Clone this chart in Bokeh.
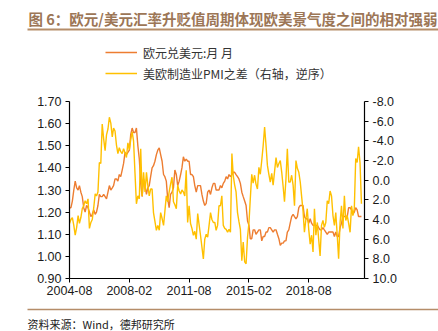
from datetime import datetime
import pandas as pd
from bokeh.plotting import figure
from bokeh.layouts import column
from bokeh.core.properties import value
from bokeh.models import (Range1d, LinearAxis, FixedTicker, PrintfTickFormatter,
                          DatetimeTickFormatter, Legend, LegendItem)
from bokeh.embed import file_html
from bokeh.resources import INLINE

title_text = "图 6：欧元/美元汇率升贬值周期体现欧美景气度之间的相对强弱"
source_text = "资料来源：Wind，德邦研究所"
name_eur = "欧元兑美元:月 月"
name_pmi = "美欧制造业PMI之差（右轴，逆序）"

start_month = "2004-08"
eurusd = [
    1.22, 1.22, 1.25, 1.30, 1.34,
    1.31, 1.30, 1.32, 1.29, 1.27, 1.22, 1.20, 1.23, 1.22, 1.20, 1.18, 1.19,
    1.21, 1.19, 1.20, 1.23, 1.28, 1.27, 1.27, 1.28, 1.27, 1.26, 1.29, 1.32,
    1.30, 1.31, 1.32, 1.35, 1.35, 1.34, 1.37, 1.36, 1.39, 1.42, 1.47, 1.46,
    1.47, 1.48, 1.55, 1.58, 1.56, 1.56, 1.58, 1.50, 1.44, 1.33, 1.27, 1.35,
    1.32, 1.28, 1.31, 1.32, 1.36, 1.40, 1.41, 1.43, 1.46, 1.48, 1.49, 1.46,
    1.43, 1.37, 1.36, 1.34, 1.26, 1.22, 1.28, 1.29, 1.31, 1.39, 1.37, 1.32,
    1.34, 1.37, 1.40, 1.45, 1.43, 1.44, 1.43, 1.43, 1.37, 1.37, 1.36, 1.32,
    1.29, 1.32, 1.32, 1.32, 1.28, 1.25, 1.23, 1.24, 1.29, 1.30, 1.28, 1.31,
    1.33, 1.33, 1.30, 1.30, 1.30, 1.32, 1.31, 1.33, 1.34, 1.36, 1.35, 1.37,
    1.36, 1.37, 1.38, 1.38, 1.37, 1.36, 1.35, 1.33, 1.29, 1.27, 1.25, 1.23,
    1.16, 1.14, 1.08, 1.08, 1.12, 1.12, 1.10, 1.11, 1.12, 1.12, 1.07, 1.09,
    1.09, 1.11, 1.11, 1.13, 1.13, 1.12, 1.11, 1.12, 1.12, 1.10, 1.08, 1.05,
    1.06, 1.06, 1.07, 1.07, 1.11, 1.12, 1.15, 1.18, 1.19, 1.18, 1.17, 1.18,
    1.22, 1.23, 1.23, 1.23, 1.18, 1.17, 1.17, 1.15, 1.17, 1.15, 1.14, 1.14,
    1.14, 1.14, 1.13, 1.12, 1.12, 1.13, 1.12, 1.11, 1.10, 1.11, 1.11, 1.11,
    1.11, 1.09, 1.11, 1.09, 1.09, 1.13, 1.15, 1.18, 1.18, 1.18, 1.18, 1.22,
    1.22, 1.21, 1.19, 1.20, 1.22, 1.21, 1.18, 1.18, 1.18,
]
pmi_diff = [
    4.4, 4.0, 3.8, 4.6, 5.6,
    4.8, 3.6, 4.4, 3.8, 2.9, 2.6, 2.1, 2.4, 1.9, 4.9, 4.3, 4.0,
    2.8, 1.4, 1.6, 1.2, -1.8, -1.7, -5.7, -4.2, -3.0, -4.6, -5.2, -6.4,
    -5.8, -4.4, -5.3, -5.0, -3.6, -2.7, -3.3, -2.9, -2.7, -3.2, -2.8, -2.3,
    -3.8, -3.1, -4.1, -4.9, -4.0, -0.7, 2.4, 1.6, 1.9, -3.2, 1.6, -0.8,
    1.2, -0.8, 0.5, 1.6, 0.9, 0.9, 3.3, 4.2, 5.1, 4.6, 5.1, 3.3,
    3.9, 4.6, 3.2, 1.6, 2.2, 1.2, 0.4, -0.3, 2.2, 2.5, 2.9, 0.5,
    1.1, 1.4, 1.0, 1.2, 1.6, -1.0, 4.3, 2.6, 4.4, 4.9, 5.6, 5.2,
    6.0, 3.4, 4.5, 5.6, 6.8, 8.0, 6.0, 5.5, 5.8, 4.6, 3.3, 4.0,
    4.3, 4.3, 5.1, 4.6, 2.6, 2.6, 1.6, 4.6, 4.9, 5.0, 5.3, 5.0,
    5.3, -2.7, -0.5, 0.5, 1.2, 3.3, 4.2, 5.0, 8.2, 6.3, 8.3, 8.5,
    5.8, 4.3, 1.9, -0.6, 0.3, -0.5, 0.4, 0.9, -1.3, -0.6, -2.0, -3.5,
    -5.4, -3.5, -1.5, -0.6, 0.2, -0.7, 0.5, -0.9, -2.3, -1.3, -1.7, -2.0,
    -0.8, 0.7, 2.2, -0.1, -3.2, 0.2, 0.2, -0.5, 0.5, 2.6, -2.0, -1.2,
    -0.8, 0.2, 1.6, 3.1, 5.3, 4.0, 2.9, 5.0, 6.5, 5.6, 7.3, 2.9,
    5.6, 4.3, 6.0, 7.7, 4.6, 4.1, 4.8, 4.3, 2.1, 2.4, 1.1, 1.6,
    3.6, 4.6, 3.3, 5.6, 8.0, 4.3, 2.6, 4.9, 1.6, 4.1, 3.6, 4.4,
    5.3, 2.6, 3.6, 2.9, -2.2, -1.8, -3.4, -1.8, 2.4,
]
dates = pd.date_range(start_month, periods=len(eurusd), freq="MS")
left_ticks = [0.9, 1.0, 1.1, 1.2, 1.3, 1.4, 1.5, 1.6, 1.7]
right_ticks = [-8, -6, -4, -2, 0, 2, 4, 6, 8, 10]
x_tick_labels = ["2004-08", "2008-02", "2011-08", "2015-02", "2018-08"]

ORANGE = "#ED7D31"
GOLD = "#FFC000"
BROWN = "#9C7656"
RULE = "#B58D69"
LABEL_FONT = "Liberation Sans"
CJK = "Noto Sans CJK SC"
W = 438
HEAD_H = 91
FOOT_H = 29
MAIN_H = 331 - HEAD_H - FOOT_H


def blank(h):
    f = figure(width=W, height=h, output_backend="svg", toolbar_location=None,
               x_range=Range1d(0, W), y_range=Range1d(h, 0),
               x_axis_location=None, y_axis_location=None, min_border=0)
    f.frame_align = False
    f.outline_line_color = None
    f.xgrid.visible = False
    f.ygrid.visible = False
    f.background_fill_color = "white"
    f.border_fill_color = "white"
    return f


# ---- header: title, rule, legend ----
head = blank(HEAD_H)
head.text(x=[28], y=[18], text=[title_text], text_font=value(CJK),
          text_font_size="14.5px", text_font_style="bold", text_color=BROWN,
          text_baseline="middle", text_align="left")
head.segment(x0=[27], y0=[29], x1=[W], y1=[29], line_color=RULE, line_width=2)
# legend proxies (kept outside the visible header range)
g1 = head.line(x=[-60, -50], y=[-60, -60], line_color=ORANGE, line_width=1.5)
g2 = head.line(x=[-60, -50], y=[-60, -60], line_color=GOLD, line_width=1.5)
legend = Legend(items=[LegendItem(label=name_eur, renderers=[g1]),
                       LegendItem(label=name_pmi, renderers=[g2])],
                location=(105, 8), orientation="vertical")
legend.background_fill_alpha = 0
legend.border_line_color = None
legend.padding = 0
legend.margin = 0
legend.spacing = 1
legend.glyph_width = 32
legend.glyph_height = 20
legend.label_height = 20
legend.label_standoff = 6
legend.label_text_font = CJK
legend.label_text_font_size = "12px"
legend.label_text_color = "#333333"
head.add_layout(legend, "center")

# ---- main chart ----
p = figure(width=W, height=MAIN_H, output_backend="svg", toolbar_location=None,
           x_axis_type="datetime",
           x_range=Range1d(datetime(2004, 8, 1), datetime(2021, 11, 5)),
           y_range=Range1d(0.9, 1.7))
p.frame_align = False
p.min_border_left = 69
p.min_border_right = 74
p.min_border_top = 10
p.min_border_bottom = MAIN_H - 10 - 177
p.outline_line_color = None
p.xgrid.visible = False
p.ygrid.visible = False
p.background_fill_color = "white"
p.border_fill_color = "white"
p.extra_y_ranges = {"pmi": Range1d(10, -8)}

p.line(dates, eurusd, line_color=ORANGE, line_width=1.4)
p.line(dates, pmi_diff, line_color=GOLD, line_width=1.4, y_range_name="pmi")


def style_axis(ax):
    ax.axis_line_color = "black"
    ax.axis_line_width = 1.2
    ax.major_tick_line_color = "black"
    ax.major_tick_in = 0
    ax.major_tick_out = 4
    ax.minor_tick_line_color = None
    ax.major_label_text_font = LABEL_FONT
    ax.major_label_text_font_size = "12.5px"
    ax.major_label_text_color = "#1a1a1a"


yax = p.yaxis[0]
yax.ticker = FixedTicker(ticks=left_ticks)
yax.formatter = PrintfTickFormatter(format="%.2f")
style_axis(yax)
yax.major_label_standoff = 4

rax = LinearAxis(y_range_name="pmi", ticker=FixedTicker(ticks=right_ticks),
                 formatter=PrintfTickFormatter(format="%.1f"))
style_axis(rax)
rax.major_label_standoff = 4
p.add_layout(rax, "right")

xax = p.xaxis[0]
xt = [pd.Timestamp(s + "-01").value // 10**6 for s in x_tick_labels]
xax.ticker = FixedTicker(ticks=xt)
fmt = "%Y-%m"
xax.formatter = DatetimeTickFormatter(years=fmt, months=fmt, days=fmt, hours=fmt,
                                      minutes=fmt, seconds=fmt, milliseconds=fmt,
                                      microseconds=fmt, hourmin=fmt, minsec=fmt)
style_axis(xax)
xax.major_label_standoff = 3

# ---- footer: rule and source ----
foot = blank(FOOT_H)
foot.segment(x0=[27], y0=[7], x1=[W], y1=[7], line_color=RULE, line_width=1.5)
foot.text(x=[27], y=[21], text=[source_text], text_font=value(CJK),
          text_font_size="11px", text_color="#222222",
          text_baseline="middle", text_align="left")

layout = column(head, p, foot, spacing=0)
open("out.html", "w").write(file_html(layout, INLINE))
